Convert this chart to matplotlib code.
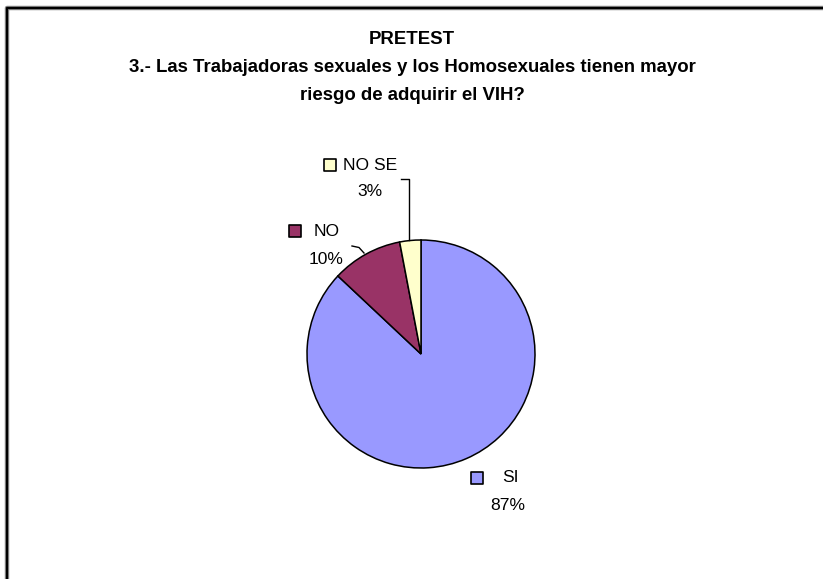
import matplotlib.pyplot as plt
from matplotlib import font_manager

# data
labels = ['SI', 'NO', 'NO SE']
values = [87, 10, 3]
colors = ['#9999FF', '#993366', '#FFFFCC']

names = {f.name for f in font_manager.fontManager.ttflist}
title_font = 'Liberation Sans Narrow' if 'Liberation Sans Narrow' in names else 'Liberation Sans'
plt.rcParams['font.family'] = ['Liberation Sans', 'DejaVu Sans']

W, H = 823, 579
fig = plt.figure(figsize=(W / 100, H / 100), dpi=100)
ax = fig.add_axes([0, 0, 1, 1])

def py(y):
    # pixel row -> axes y
    return H - y

# frame (only top and left edges visible in the crop)
ax.plot([7, 7, W], [py(H), py(8), py(8)], color='#888888', lw=3.2, solid_capstyle='butt')
ax.plot([7, 7, W], [py(H), py(8), py(8)], color='black', lw=1.6, solid_capstyle='butt')

# title
ax.text(412, py(40), 'PRETEST', ha='center', va='center', fontsize=13.4,
        fontweight='bold', family=title_font)
ax.text(412, py(68), '3.- Las Trabajadoras sexuales y los Homosexuales tienen mayor',
        ha='center', va='center', fontsize=13.4, fontweight='bold', family=title_font)
ax.text(412, py(96), 'riesgo de adquirir el VIH?', ha='center', va='center',
        fontsize=13.4, fontweight='bold', family=title_font)

# pie
wedges, _ = ax.pie(values, colors=colors, startangle=90, counterclock=False,
                   center=(421, py(354)), radius=114, frame=True,
                   wedgeprops=dict(edgecolor='black', linewidth=1.1))
ax.set_xlim(0, W)
ax.set_ylim(0, H)
ax.set_aspect('equal')
ax.axis('off')

# labels: (square x, square y, name x, pct x, pct y)
lab_pos = {
    'SI': (477.5, 478, 502, 508, 506),
    'NO': (295, 231, 314, 326, 260),
    'NO SE': (330, 165, 343, 370, 192),
}
for lab, val, col in zip(labels, values, colors):
    sx, sy, nx, px_, pct_y = lab_pos[lab]
    ax.scatter([sx], [py(sy)], marker='s', s=70, facecolor=col,
               edgecolor='black', linewidth=1.2, zorder=5)
    ax.text(nx, py(sy), lab, ha='left', va='center', fontsize=12.6)
    ax.text(px_, py(pct_y), f'{val}%', ha='center', va='center', fontsize=12.6)

# leader lines
ax.plot([401.5, 409, 409], [py(179), py(179), py(240)], color='black', lw=1.0)
ax.plot([352, 359, 364], [py(246), py(247.5), py(253)], color='black', lw=1.0)

fig.savefig('out.png', dpi=100)
